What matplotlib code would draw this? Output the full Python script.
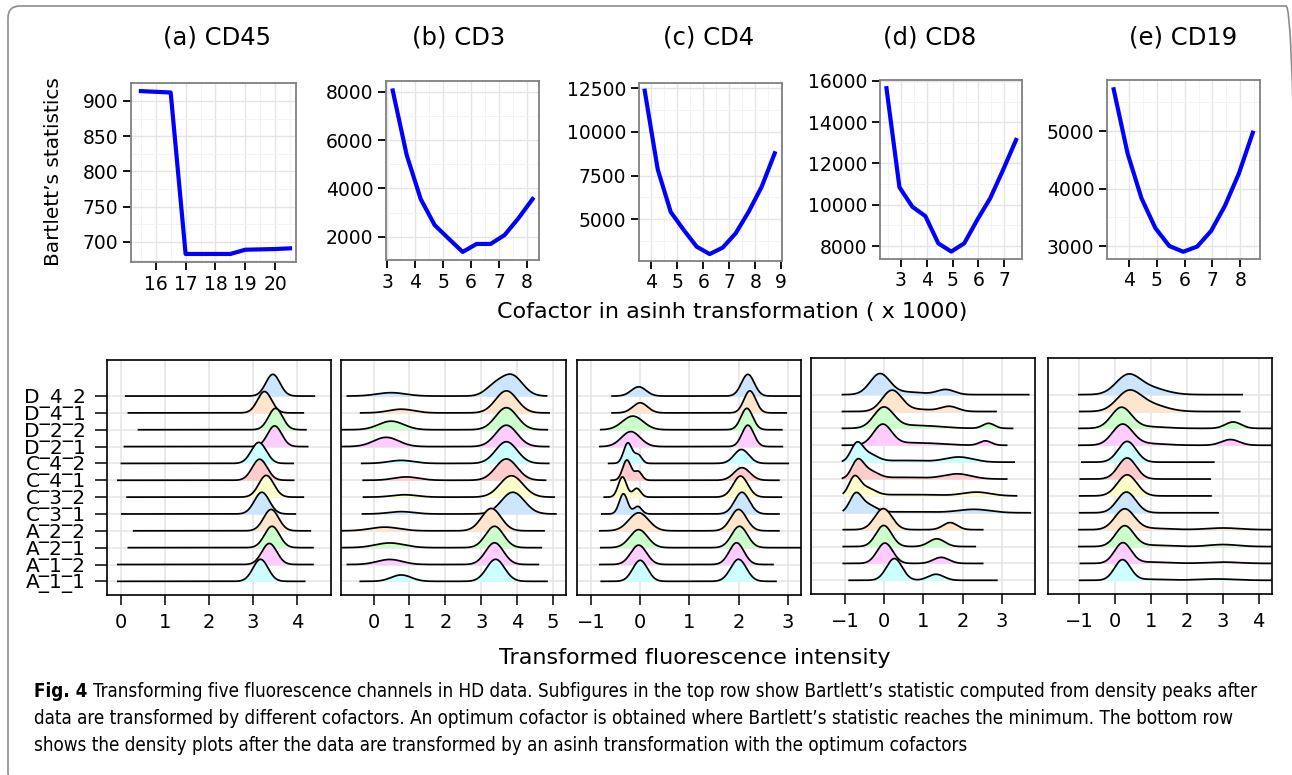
import numpy as np
import matplotlib
matplotlib.use("Agg")
import matplotlib.pyplot as plt
from matplotlib.ticker import MultipleLocator
from matplotlib.patches import FancyBboxPatch
from matplotlib.transforms import IdentityTransform
from matplotlib import font_manager

# top row: Bartlett's statistic against cofactor (x 1000)
cd45_x = [15.5, 16.0, 16.5, 17.0, 17.5, 18.0, 18.5, 19.0, 19.5, 20.0, 20.5]
cd45_y = [914, 913, 912, 683, 683, 683, 683, 689, 689.5, 690, 691]
cd3_x = [3.2, 3.7, 4.2, 4.7, 5.2, 5.7, 6.2, 6.7, 7.2, 7.7, 8.2]
cd3_y = [8050, 5380, 3560, 2480, 1920, 1370, 1700, 1700, 2070, 2770, 3560]
cd4_x = [3.75, 4.25, 4.75, 5.25, 5.75, 6.25, 6.75, 7.25, 7.75, 8.25, 8.75]
cd4_y = [12360, 7860, 5420, 4390, 3430, 3010, 3380, 4200, 5440, 6870, 8780]
cd8_x = [2.45, 2.95, 3.45, 3.95, 4.45, 4.95, 5.45, 5.95, 6.45, 6.95, 7.45]
cd8_y = [15650, 10850, 9900, 9450, 8130, 7730, 8130, 9260, 10310, 11690, 13140]
cd19_x = [3.45, 3.95, 4.45, 4.95, 5.45, 5.95, 6.45, 6.95, 7.45, 7.95, 8.45]
cd19_y = [5725, 4610, 3830, 3310, 3000, 2900, 2990, 3260, 3700, 4260, 4970]

titles = ["(a) CD45", "(b) CD3", "(c) CD4", "(d) CD8", "(e) CD19"]

# bottom row: density ridges, samples listed top to bottom
samples = ["D_4_2", "D_4_1", "D_2_2", "D_2_1", "C_4_2", "C_4_1",
           "C_3_2", "C_3_1", "A_2_2", "A_2_1", "A_1_2", "A_1_1"]
fill_cols = ["#CCE6FF", "#FFE5CC", "#CCFFCC", "#FFCCFF", "#CCFFFF", "#FFCCCC",
             "#FFFFCC", "#CCE6FF", "#FFE5CC", "#CCFFCC", "#FFCCFF", "#CCFFFF"]

# data range of each sample and its density peaks (centre, height, spread)
cd45_span = [(0.11, 4.39), (0.17, 4.14), (0.40, 4.20), (0.08, 4.24), (0.01, 3.91), (-0.07, 3.92),
             (0.14, 4.14), (0.02, 3.96), (0.29, 4.30), (0.17, 4.36), (-0.07, 4.36), (-0.07, 4.17)]
cd45_peaks = [[(3.45, 1.29, 0.16)], [(3.26, 1.27, 0.16)], [(3.51, 1.27, 0.16)],
              [(3.49, 1.23, 0.16)], [(3.13, 1.25, 0.17)], [(3.15, 1.25, 0.17)],
              [(3.30, 1.29, 0.17)], [(3.20, 1.29, 0.17)], [(3.41, 1.27, 0.17)],
              [(3.43, 1.27, 0.17)], [(3.37, 1.25, 0.17)], [(3.17, 1.31, 0.17)]]

cd3_span = [(-0.73, 4.82), (-0.36, 4.89), (-0.95, 4.84), (-0.95, 4.88), (-0.33, 4.88), (-0.29, 4.79),
            (-0.28, 5.03), (-0.31, 5.08), (-0.95, 4.75), (-0.95, 4.67), (-0.73, 4.59), (-0.37, 4.83)]
cd3_peaks = [[(0.49, 0.20, 0.40), (3.35, 0.50, 0.25), (3.85, 1.22, 0.30)],
             [(0.77, 0.22, 0.35), (3.70, 1.31, 0.30)],
             [(0.49, 0.51, 0.35), (3.70, 1.31, 0.30)],
             [(0.35, 0.55, 0.35), (3.70, 1.27, 0.30)],
             [(0.77, 0.18, 0.35), (3.70, 1.29, 0.30)],
             [(0.91, 0.20, 0.35), (3.70, 1.27, 0.30)],
             [(0.86, 0.14, 0.35), (3.84, 1.27, 0.32)],
             [(0.77, 0.14, 0.35), (3.88, 1.29, 0.32)],
             [(0.31, 0.22, 0.40), (3.28, 1.33, 0.27)],
             [(0.45, 0.28, 0.40), (3.37, 1.27, 0.25)],
             [(0.45, 0.30, 0.35), (3.37, 1.29, 0.25)],
             [(0.77, 0.38, 0.28), (3.40, 1.31, 0.25)]]

cd4_span = [(-0.57, 3.5), (-0.57, 2.97), (-0.80, 2.88), (-0.82, 2.89), (-0.64, 3.01), (-0.59, 2.82),
            (-0.73, 2.87), (-0.78, 2.82), (-0.82, 2.82), (-0.80, 3.5), (-0.82, 2.70), (-0.79, 2.76)]
cd4_peaks = [[(-0.03, 0.55, 0.15), (2.19, 1.29, 0.13)],
             [(0.00, 0.60, 0.15), (2.23, 1.31, 0.12)],
             [(-0.15, 0.81, 0.21), (2.17, 1.27, 0.12)],
             [(-0.19, 0.89, 0.19), (2.19, 1.27, 0.12)],
             [(-0.25, 1.22, 0.085), (-0.04, 0.50, 0.075), (2.06, 0.83, 0.15)],
             [(-0.27, 1.20, 0.085), (-0.04, 0.52, 0.075), (2.07, 0.75, 0.16)],
             [(-0.36, 1.20, 0.085), (-0.07, 0.52, 0.08), (2.04, 1.25, 0.15)],
             [(-0.34, 1.20, 0.085), (-0.05, 0.45, 0.08), (2.07, 1.29, 0.15)],
             [(-0.03, 1.07, 0.20), (2.00, 1.27, 0.16)],
             [(-0.03, 1.07, 0.18), (2.02, 1.27, 0.16)],
             [(-0.03, 1.15, 0.16), (1.96, 1.29, 0.15)],
             [(0.00, 1.25, 0.15), (2.00, 1.31, 0.16)]]

cd8_span = [(-1.06, 3.68), (-1.06, 2.85), (-1.06, 3.27), (-1.06, 3.12), (-1.06, 3.31), (-1.06, 3.12),
            (-1.04, 3.37), (-1.04, 3.72), (-1.04, 2.51), (-1.04, 2.32), (-1.04, 2.51), (-0.89, 2.87)]
cd8_peaks = [[(-0.11, 1.22, 0.25), (0.60, 0.15, 0.40), (1.57, 0.30, 0.22)],
             [(0.20, 1.25, 0.25), (0.90, 0.12, 0.35), (1.66, 0.30, 0.22)],
             [(-0.01, 1.20, 0.25), (0.80, 0.18, 0.60), (2.66, 0.30, 0.15)],
             [(-0.04, 1.20, 0.23), (0.80, 0.15, 0.60), (2.58, 0.26, 0.15)],
             [(-0.70, 1.00, 0.15), (-0.40, 0.45, 0.22), (0.50, 0.10, 0.60), (1.91, 0.30, 0.35)],
             [(-0.68, 1.00, 0.15), (-0.38, 0.45, 0.22), (0.50, 0.10, 0.60), (1.87, 0.30, 0.35)],
             [(-0.76, 1.00, 0.14), (-0.46, 0.45, 0.22), (0.60, 0.08, 0.80), (2.36, 0.22, 0.35)],
             [(-0.73, 1.00, 0.15), (-0.43, 0.45, 0.22), (0.60, 0.06, 0.80), (2.30, 0.20, 0.40)],
             [(-0.02, 1.25, 0.22), (1.68, 0.42, 0.18)],
             [(-0.01, 1.25, 0.20), (1.34, 0.46, 0.20)],
             [(0.02, 1.21, 0.20), (1.45, 0.36, 0.20)],
             [(0.26, 1.29, 0.20), (1.32, 0.36, 0.20)]]

cd19_span = [(-1.0, 3.54), (-0.98, 3.47), (-1.0, 4.5), (-1.0, 4.5), (-0.92, 2.75), (-0.96, 2.65),
             (-0.98, 2.67), (-0.98, 2.87), (-1.0, 4.5), (-1.0, 4.5), (-0.96, 4.5), (-0.98, 4.5)]
cd19_peaks = [[(0.35, 1.05, 0.33), (0.95, 0.40, 0.45)],
              [(0.37, 1.08, 0.33), (0.95, 0.42, 0.45)],
              [(0.18, 1.22, 0.28), (0.90, 0.10, 0.50), (3.29, 0.38, 0.22)],
              [(0.21, 1.22, 0.28), (0.90, 0.10, 0.50), (3.21, 0.34, 0.25)],
              [(0.34, 1.23, 0.25)],
              [(0.34, 1.25, 0.25)],
              [(0.34, 1.25, 0.27)],
              [(0.32, 1.23, 0.26)],
              [(0.27, 1.21, 0.27), (1.00, 0.08, 0.50), (3.01, 0.10, 0.45)],
              [(0.27, 1.21, 0.25), (1.00, 0.08, 0.50), (3.01, 0.12, 0.40)],
              [(0.22, 1.21, 0.23), (1.00, 0.08, 0.50), (3.00, 0.08, 0.45)],
              [(0.21, 1.21, 0.22), (1.00, 0.06, 0.50), (2.82, 0.08, 0.50)]]

caption = ["Transforming five fluorescence channels in HD data. Subfigures in the top row show Bartlett\u2019s statistic computed from density peaks after",
           "data are transformed by different cofactors. An optimum cofactor is obtained where Bartlett\u2019s statistic reaches the minimum. The bottom row",
           "shows the density plots after the data are transformed by an asinh transformation with the optimum cofactors"]

W, H = 1292, 775
fig = plt.figure(figsize=(W / 100, H / 100), dpi=100)


def px_box(x0, y0, x1, y1):
    return [x0 / W, 1 - y1 / H, (x1 - x0) / W, (y1 - y0) / H]


# ---------------- top row ----------------
top = [
    (cd45_x, cd45_y, (131, 83, 296, 262), (15.17, 20.7), (671.6, 925.5), [16, 17, 18, 19, 20], 50, 217),
    (cd3_x, cd3_y, (386, 81, 539, 260), (2.96, 8.43), (1036, 8443), [3, 4, 5, 6, 7, 8], 2000, 459),
    (cd4_x, cd4_y, (639, 83, 782, 261), (3.53, 9.03), (2613, 12803), [4, 5, 6, 7, 8, 9], 2500, 709),
    (cd8_x, cd8_y, (880, 80, 1022, 259), (2.2, 7.68), (7370, 16048), [3, 4, 5, 6, 7], 2000, 930),
    (cd19_x, cd19_y, (1107, 80, 1260, 259), (3.21, 8.71), (2774, 5887), [4, 5, 6, 7, 8], 1000, 1183),
]

for i, (xs, ys, bx, xl, yl, xt, ystep, tx) in enumerate(top):
    ax = fig.add_axes(px_box(*bx))
    ax.plot(xs, ys, color="#0000FF", lw=3.0, solid_joinstyle="round", zorder=3)
    ax.set_xlim(*xl)
    ax.set_ylim(*yl)
    ax.set_xticks(xt)
    ax.xaxis.set_minor_locator(MultipleLocator(0.5))
    ax.yaxis.set_major_locator(MultipleLocator(ystep))
    ax.yaxis.set_minor_locator(MultipleLocator(ystep / 2))
    ax.grid(True, which="major", color="#E5E5E5", lw=1.0, zorder=0)
    ax.grid(True, which="minor", color="#F3F3F3", lw=0.7, zorder=0)
    ax.set_axisbelow(True)
    for s in ax.spines.values():
        s.set_color("#808080")
        s.set_linewidth(1.3)
    ax.tick_params(which="major", direction="out", length=6, width=1.3,
                   labelsize=13.5, pad=3, color="black")
    ax.tick_params(which="minor", length=0)
    fig.text(tx / W, 1 - 37 / H, titles[i], fontsize=17.5, ha="center", va="center")

fig.text(54 / W, 1 - 172 / H, "Bartlett\u2019s statistics", fontsize=14.5,
         rotation=90, ha="center", va="center")
fig.text(732 / W, 1 - 312 / H, "Cofactor in asinh transformation ( x 1000)",
         fontsize=16, ha="center", va="center")

# ---------------- bottom row ----------------
bottom = [
    (cd45_span, cd45_peaks, (107.3, 359.5, 331.0, 595.0), (-0.31, 4.77), [0, 1, 2, 3, 4]),
    (cd3_span, cd3_peaks, (341.3, 359.5, 566.3, 595.0), (-0.90, 5.37), [0, 1, 2, 3, 4, 5]),
    (cd4_span, cd4_peaks, (576.7, 359.5, 801.0, 595.0), (-1.29, 3.27), [-1, 0, 1, 2, 3]),
    (cd8_span, cd8_peaks, (810.7, 358.0, 1035.3, 594.0), (-1.87, 3.85), [-1, 0, 1, 2, 3]),
    (cd19_span, cd19_peaks, (1047.7, 358.0, 1272.0, 594.0), (-1.87, 4.37), [-1, 0, 1, 2, 3, 4]),
]

n = len(samples)
for j, (spans, peaks, bx, xl, xt) in enumerate(bottom):
    ax = fig.add_axes(px_box(*bx))
    for k, ((x0, x1), comps) in enumerate(zip(spans, peaks)):
        base = n - 1 - k
        xs = np.linspace(x0, x1, 600)
        dens = np.zeros_like(xs)
        for c, h, s in comps:
            dens += h * np.exp(-0.5 * ((xs - c) / s) ** 2)
        z = 2 + k
        ax.fill_between(xs, base, base + dens, color=fill_cols[k], lw=0, zorder=z)
        ax.plot(xs, base + dens, color="black", lw=1.25, zorder=z + 0.5)
    ax.set_xlim(*xl)
    ax.set_ylim(-0.81, 13.17)
    ax.set_xticks(xt)
    ax.set_yticks(range(n))
    ax.grid(True, color="#E6E6E6", lw=1.2, zorder=0)
    ax.set_axisbelow(True)
    for s in ax.spines.values():
        s.set_color("black")
        s.set_linewidth(1.2)
    ax.tick_params(axis="x", direction="out", length=7, width=1.1, labelsize=14, pad=6)
    if j == 0:
        ax.set_yticklabels(samples[::-1])
        ax.tick_params(axis="y", direction="out", length=8.5, width=1.1, labelsize=14.5, pad=7)
    else:
        ax.tick_params(axis="y", length=0, labelleft=False)

fig.text(695 / W, 1 - 658 / H, "Transformed fluorescence intensity",
         fontsize=16, ha="center", va="center")

# ---------------- caption ----------------
# prefer a narrow face for the caption when one is installed
cap_font = None
for f in font_manager.fontManager.ttflist:
    if ("Condensed" in f.name or "Narrow" in f.name or f.stretch in ("condensed", "semi-condensed")) \
            and f.weight in (400, "normal", "regular") and f.style == "normal":
        cap_font = f
        break
if cap_font is not None:
    cap_props = dict(family=cap_font.name, stretch=cap_font.stretch)
else:
    cap_props = dict(family="DejaVu Sans")

renderer = fig.canvas.get_renderer()
probe_b = fig.text(0, 0, "Fig. 4 ", fontsize=10, weight="bold", **cap_props)
probe_r = fig.text(0, 0, caption[0], fontsize=10, **cap_props)
wb = probe_b.get_window_extent(renderer).width
wr = probe_r.get_window_extent(renderer).width
probe_b.remove()
probe_r.remove()
cap_size = 10 * (1262 - 34) / (wb + wr)

x_left = 34
fig.text(x_left / W, 1 - 697 / H, "Fig. 4", fontsize=cap_size, weight="bold",
         ha="left", va="baseline", **cap_props)
fig.text((x_left + wb * cap_size / 10) / W, 1 - 697 / H, caption[0], fontsize=cap_size,
         ha="left", va="baseline", **cap_props)
fig.text(x_left / W, 1 - 724 / H, caption[1], fontsize=cap_size,
         ha="left", va="baseline", **cap_props)
fig.text(x_left / W, 1 - 751 / H, caption[2], fontsize=cap_size,
         ha="left", va="baseline", **cap_props)

# rounded frame; its right and bottom edges run just past the canvas
frame = FancyBboxPatch((8, H - 784), 1290, 778, boxstyle="round,pad=0,rounding_size=12",
                       transform=IdentityTransform(), fill=False, edgecolor="#8C8C8C",
                       lw=1.2, figure=fig)
fig.patches.append(frame)

fig.savefig("out.png", dpi=100)
